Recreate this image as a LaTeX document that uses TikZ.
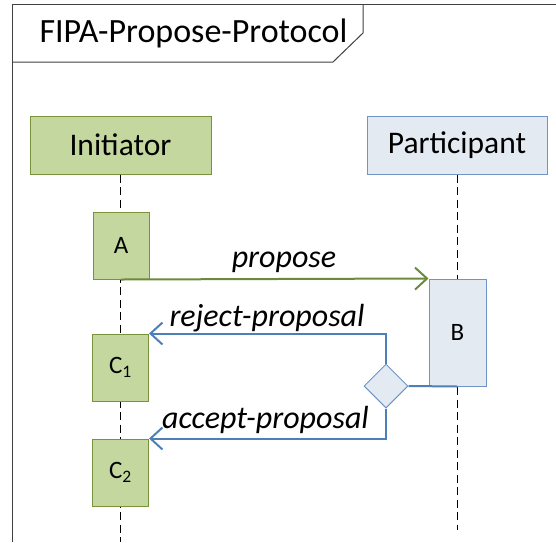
\documentclass[tikz,border=0pt]{standalone}
\usepackage{fontspec}
\setmainfont{Carlito}
\usepackage{tikz}
\usetikzlibrary{shapes.geometric,arrows.meta}
\definecolor{initfill}{HTML}{C3D79F}
\definecolor{initdraw}{HTML}{77933C}
\definecolor{partfill}{HTML}{E3EAF2}
\definecolor{partdraw}{HTML}{6F95C6}
\definecolor{msggreen}{HTML}{6C8A3C}
\definecolor{msgblue}{HTML}{4F7FB8}
\definecolor{framegray}{HTML}{404040}
\tikzset{
  initbox/.style={draw=initdraw, fill=initfill, line width=1pt, inner sep=0pt},
  partbox/.style={draw=partdraw, fill=partfill, line width=1pt, inner sep=0pt},
  headtext/.style={font=\fontsize{31.5}{34}\selectfont},
  acttext/.style={font=\fontsize{25}{27}\selectfont},
  msgtext/.style={font=\fontsize{32}{34}\selectfont\itshape, anchor=base},
  lifeline/.style={line width=1pt, dash pattern=on 8pt off 4.5pt},
  greenmsg/.style={draw=msggreen, line width=2pt, -{Straight Barb[length=12pt,width=22pt,line width=2pt]}},
  bluemsg/.style={draw=msgblue, line width=2pt, -{Straight Barb[length=12pt,width=22pt,line width=2pt]}}
}
\begin{document}
\begin{tikzpicture}[x=1pt, y=-1pt]
\useasboundingbox (0,0) rectangle (556,542);
% frame and title tab
\draw[framegray, line width=1pt] (12,542) -- (12,4) -- (556,4);
\draw[framegray, line width=1pt] (12,62) -- (333,62) -- (363,33) -- (363,4);
\node[font=\fontsize{34}{36}\selectfont] (title) at (193.5,33) {FIPA-Propose-Protocol};
% lifeline heads
\node[initbox, headtext, minimum width=181pt, minimum height=58pt] (ini) at (120.5,145) {Initiator};
\node[partbox, headtext, minimum width=180pt, minimum height=58pt] (part) at (457,145) {Participant};
\coordinate (iniend) at (120.5,542);
\coordinate (partend) at (457,530);
\draw[lifeline] (ini.south) -- (iniend);
\draw[lifeline] (part.south) -- (partend);
% activations
\node[initbox, acttext, minimum width=56pt, minimum height=67pt] (A) at (121,245.5) {A};
\node[partbox, acttext, minimum width=57pt, minimum height=107pt] (B) at (457.5,332.5) {B};
\node[initbox, acttext, minimum width=56pt, minimum height=67pt] (C1) at (120.5,367.5) {C\textsubscript{1}};
\node[initbox, acttext, minimum width=56pt, minimum height=67pt] (C2) at (120.5,472.5) {C\textsubscript{2}};
\node[diamond, draw=partdraw, fill=partfill, line width=1pt, inner sep=0pt, minimum width=44pt, minimum height=44pt] (dec) at (386,386) {};
% messages
\draw[greenmsg] (A.south) -- (B.north west);
\node[msgtext] (propose) at (284,267) {propose};
\draw[draw=msgblue, line width=2pt] (dec.east) -- (B.south);
\draw[bluemsg] (dec.north) |- (C1.north east);
\node[msgtext] (reject) at (267,326) {reject-proposal};
\draw[bluemsg] (dec.south) |- (C2.north east);
\node[msgtext] (accept) at (265.5,428) {accept-proposal};
\end{tikzpicture}
\end{document}
